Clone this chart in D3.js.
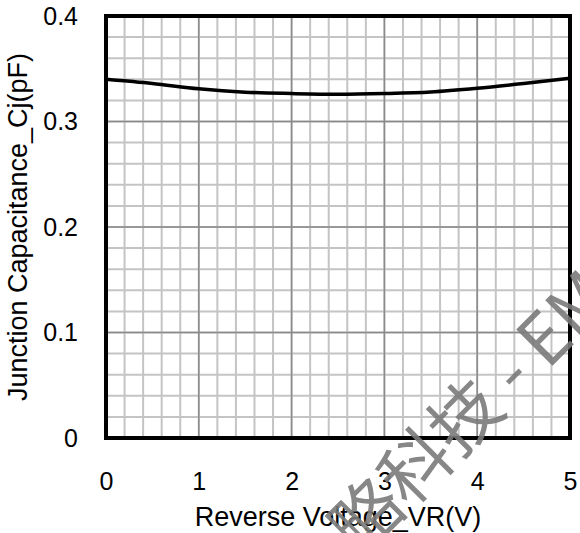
<!DOCTYPE html>
<html lang="en">
<head>
  <meta charset="UTF-8" />
  <title>Junction Capacitance vs Reverse Voltage</title>
  <script src="https://d3js.org/d3.v7.min.js"></script>
  <style>
    body {
      margin: 0;
      background: #fff;
    }
    svg {
      display: block;
      font-family: "Liberation Sans", Arial, sans-serif;
    }
  </style>
</head>
<body>
  <svg width="580" height="533"></svg>

  <script>
    // Data
    const voltage = [0, 0.5, 1, 1.5, 2, 2.5, 3, 3.5, 4, 4.5, 5];
    const capacitance = [0.340, 0.336, 0.331, 0.3278, 0.3265, 0.3258, 0.3265, 0.328, 0.3315, 0.336, 0.341];

    const xTicks = [0, 1, 2, 3, 4, 5];
    const yTicks = [0, 0.1, 0.2, 0.3, 0.4];
    const xTitle = "Reverse Voltage_VR(V)";
    const yTitle = "Junction Capacitance_Cj(pF)";
    const watermark = "略科技 - EMC";

    const svg = d3.select("svg");
    const plotLeft = 106, plotRight = 570, plotTop = 16, plotBottom = 438;

    const x = d3.scaleLinear().domain([0, 5]).range([plotLeft, plotRight]);
    const y = d3.scaleLinear().domain([0, 0.4]).range([plotBottom, plotTop]);

    // minor grid
    const grid = svg.append("g");
    grid.selectAll("line.vx")
      .data(d3.range(0, 26).map(i => i * 0.2))
      .enter().append("line")
      .attr("x1", d => x(d)).attr("x2", d => x(d))
      .attr("y1", plotTop).attr("y2", plotBottom)
      .attr("stroke", "#c4c4c4").attr("stroke-width", 2);
    grid.selectAll("line.hy")
      .data(d3.range(0, 21).map(i => i * 0.02))
      .enter().append("line")
      .attr("x1", plotLeft).attr("x2", plotRight)
      .attr("y1", d => y(d)).attr("y2", d => y(d))
      .attr("stroke", "#c4c4c4").attr("stroke-width", 2);

    // major grid
    grid.selectAll("line.mx")
      .data(xTicks)
      .enter().append("line")
      .attr("x1", d => x(d)).attr("x2", d => x(d))
      .attr("y1", plotTop).attr("y2", plotBottom)
      .attr("stroke", "#8a8a8a").attr("stroke-width", 1.5);
    grid.selectAll("line.my")
      .data(yTicks)
      .enter().append("line")
      .attr("x1", plotLeft).attr("x2", plotRight)
      .attr("y1", d => y(d)).attr("y2", d => y(d))
      .attr("stroke", "#8a8a8a").attr("stroke-width", 1.5);

    // curve
    const line = d3.line()
      .x((d, i) => x(voltage[i]))
      .y(d => y(d))
      .curve(d3.curveMonotoneX);

    svg.append("path")
      .datum(capacitance)
      .attr("d", line)
      .attr("fill", "none")
      .attr("stroke", "#000")
      .attr("stroke-width", 3.5);

    // frame
    svg.append("rect")
      .attr("x", plotLeft).attr("y", plotTop)
      .attr("width", plotRight - plotLeft).attr("height", plotBottom - plotTop)
      .attr("fill", "none")
      .attr("stroke", "#000")
      .attr("stroke-width", 4);

    // axes (labels only)
    const xAxis = svg.append("g")
      .attr("transform", `translate(0,${plotBottom})`)
      .call(d3.axisBottom(x).tickValues(xTicks).tickSize(0).tickPadding(34).tickFormat(d3.format("d")));
    const yAxis = svg.append("g")
      .attr("transform", `translate(${plotLeft},0)`)
      .call(d3.axisLeft(y).tickValues(yTicks).tickSize(0).tickPadding(28)
        .tickFormat(d => d === 0 ? "0" : d3.format(".1f")(d)));

    [xAxis, yAxis].forEach(a => {
      a.select(".domain").remove();
      a.selectAll("text")
        .attr("font-size", 25)
        .attr("font-family", "Liberation Sans, Arial, sans-serif")
        .attr("fill", "#000");
    });

    // titles
    svg.append("text")
      .attr("x", (plotLeft + plotRight) / 2)
      .attr("y", 526)
      .attr("text-anchor", "middle")
      .attr("font-size", 27)
      .text(xTitle);

    svg.append("text")
      .attr("transform", `translate(27,${(plotTop + plotBottom) / 2}) rotate(-90)`)
      .attr("text-anchor", "middle")
      .attr("font-size", 27)
      .text(yTitle);

    // watermark
    svg.append("text")
      .attr("transform", "translate(338,537) rotate(-45)")
      .attr("dominant-baseline", "central")
      .attr("font-family", "Noto Sans CJK SC, sans-serif")
      .attr("font-size", 70)
      .attr("fill", "#7a7a7a")
      .attr("fill-opacity", 0.9)
      .text(watermark);
  </script>
</body>
</html>
